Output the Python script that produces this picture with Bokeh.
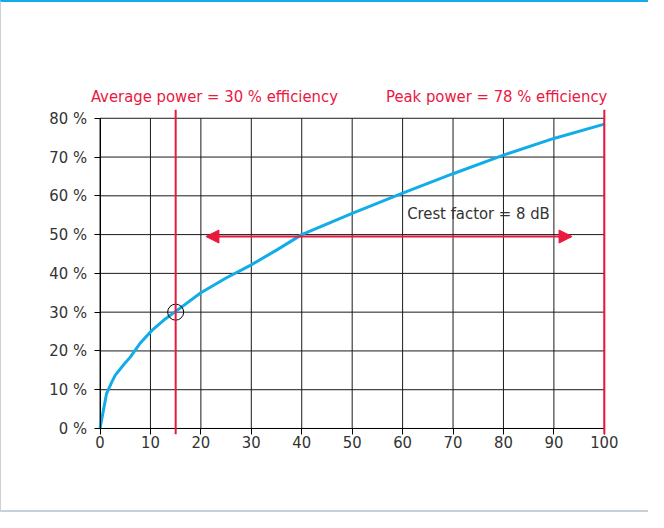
from bokeh.plotting import figure
from bokeh.models import Label, Arrow, NormalHead, FixedTicker, Range1d
from bokeh.layouts import column
from bokeh.embed import file_html
from bokeh.resources import INLINE

# Curve data (power % vs efficiency %)
power = [0, 0.66, 1.3, 2.3, 3, 4.6, 6, 7.9, 10.3, 12.6, 15, 20, 25, 30, 35, 40, 50, 60, 70, 80, 90, 100]
efficiency = [0, 4.6, 9, 11.9, 13.7, 16.3, 18.4, 21.9, 25.3, 27.9, 30.2, 35, 38.8, 42.2, 46, 50, 55.5,
              60.7, 65.7, 70.5, 74.8, 78.5]

x_ticks = [0, 10, 20, 30, 40, 50, 60, 70, 80, 90, 100]
y_ticks = [0, 10, 20, 30, 40, 50, 60, 70, 80]
y_labels = ["0 %", "10 %", "20 %", "30 %", "40 %", "50 %", "60 %", "70 %", "80 %"]

avg_power = 15
avg_eff = 30
peak_power = 100
crest_start = 21
crest_end = 93.6
crest_level = 49.5

RED = "#e8183f"
BLUE = "#12ade8"
FONT = "DejaVu Sans Condensed"
FS = "16.5px"

p = figure(width=647, height=508, output_backend="svg", toolbar_location=None,
           x_range=Range1d(-12, 104), y_range=Range1d(-8, 90),
           min_border_left=38, min_border_right=24, min_border_top=77, min_border_bottom=51)
p.outline_line_color = None
p.background_fill_color = "white"
p.border_fill_color = "white"
p.xgrid.visible = False
p.ygrid.visible = False

# grid lines drawn from the tick arrays
p.segment(x0=x_ticks, y0=[y_ticks[0]] * len(x_ticks), x1=x_ticks, y1=[y_ticks[-1]] * len(x_ticks),
          line_color="#1a1a1a", line_width=1)
p.segment(x0=[x_ticks[0]] * len(y_ticks), y0=y_ticks, x1=[x_ticks[-1]] * len(y_ticks), y1=y_ticks,
          line_color="#1a1a1a", line_width=1)

for ax in (p.xaxis[0], p.yaxis[0]):
    ax.fixed_location = 0
    ax.axis_line_color = "black"
    ax.axis_line_width = 1
    ax.major_tick_line_color = "black"
    ax.major_tick_in = 0
    ax.major_tick_out = 6
    ax.minor_tick_line_color = None
    ax.major_label_text_font = FONT
    ax.major_label_text_font_size = FS
    ax.major_label_text_color = "#333333"

p.xaxis.ticker = FixedTicker(ticks=x_ticks)
p.yaxis.ticker = FixedTicker(ticks=y_ticks)
p.xaxis.bounds = (x_ticks[0], x_ticks[-1])
p.yaxis.bounds = (y_ticks[0], y_ticks[-1])
p.yaxis.major_label_overrides = {t: l for t, l in zip(y_ticks, y_labels)}
p.yaxis.major_label_standoff = 7
p.xaxis.major_label_standoff = 2

p.line(power, efficiency, line_color=BLUE, line_width=3)

# red vertical lines
for xv in (avg_power, peak_power):
    p.add_layout(Arrow(end=None, x_start=xv, y_start=-1.5, x_end=xv, y_end=82.2,
                       line_color=RED, line_width=2))

# crest factor double arrow
p.add_layout(Arrow(start=NormalHead(size=13, fill_color=RED, line_color=RED),
                   end=NormalHead(size=13, fill_color=RED, line_color=RED),
                   x_start=crest_start, y_start=crest_level, x_end=crest_end, y_end=crest_level,
                   line_color=RED, line_width=2))

p.scatter(x=[avg_power], y=[avg_eff], size=16, fill_color=None, line_color="black", line_width=1)

p.add_layout(Label(x=-1.8, y=85.7, text="Average power = 30 % efficiency", text_color=RED,
                   text_font=FONT, text_font_size=FS, text_baseline="middle"))
p.add_layout(Label(x=100.6, y=85.7, text="Peak power = 78 % efficiency", text_color=RED,
                   text_font=FONT, text_font_size=FS, text_baseline="middle", text_align="right"))
p.add_layout(Label(x=60.9, y=55.5, text="Crest factor = 8 dB", text_color="#333333",
                   text_font=FONT, text_font_size=FS, text_baseline="middle"))

lay = column(p, styles={"border-left": "1px solid #c8d0d8", "border-bottom": "2px solid #c8d0d8",
                        "border-top": "2px solid #12ade8"})

open("out.html", "w").write(file_html(lay, INLINE))
